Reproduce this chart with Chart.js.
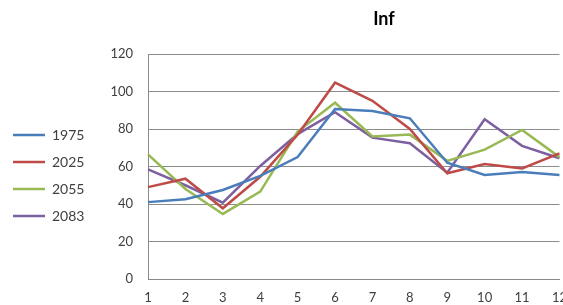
<!DOCTYPE html>
<html>
<head>
<meta charset="utf-8">
<script src="https://cdn.jsdelivr.net/npm/chart.js@4.4.1/dist/chart.umd.min.js"></script>
<style>
  html,body{margin:0;padding:0;background:#fff;overflow:hidden;}
  #wrap{position:relative;width:563px;height:305px;overflow:hidden;}
  #box{position:absolute;left:0;top:0;width:578px;height:305px;}
  #title{position:absolute;left:334px;top:7px;width:100px;text-align:center;font:bold 18px Lato,"Open Sans",sans-serif;color:#000;}
</style>
</head>
<body>
<div id="wrap">
  <div id="box"><canvas id="c"></canvas></div>
  <div id="title">Inf</div>
</div>
<script>
// data
const months = ['1','2','3','4','5','6','7','8','9','10','11','12'];
const s1975 = [41, 42.5, 47.5, 55, 65, 90.7, 89.6, 85.7, 62, 55.5, 57, 55.5];
const s2025 = [49, 53.5, 37.7, 54.5, 77, 104.7, 95, 80, 56.4, 61.3, 59, 67];
const s2055 = [66.5, 48, 34.7, 46.6, 78.6, 94, 76, 77, 63, 69, 79.5, 65];
const s2083 = [58.5, 50, 40.7, 60.3, 77.3, 89, 75.4, 72.4, 56.7, 85.2, 71, 64.4];
const yTicks = [0, 20, 40, 60, 80, 100, 120];

const txt = '#404040';
function ds(label, data, color){
  return { label, data, borderColor: color, backgroundColor: color, borderWidth: 2.5, pointRadius: 0, tension: 0, fill: false };
}

// nudge the left legend up a little, like the excel original
const legendNudge = {
  id: 'legendNudge',
  afterLayout(chart){ const lg = chart.legend; lg.top -= 4; lg.bottom -= 4; }
};

const chart = new Chart(document.getElementById('c'), {
  type: 'line',
  data: {
    labels: months,
    datasets: [
      ds('1975', s1975, '#4A7EBB'),
      ds('2025', s2025, '#BE4B48'),
      ds('2055', s2055, '#98B954'),
      ds('2083', s2083, '#7D60A0')
    ]
  },
  plugins: [legendNudge],
  options: {
    responsive: true, maintainAspectRatio: false, animation: false,
    layout: { padding: { top: 54, left: 0, right: 0, bottom: 0 } },
    plugins: {
      tooltip: { enabled: false },
      legend: {
        position: 'left',
        labels: { usePointStyle: true, pointStyle: 'line', pointStyleWidth: 32, padding: 13, color: txt, font: { family: 'Lato', size: 14 } }
      }
    },
    scales: {
      x: {
        offset: false,
        afterFit: s => { s.height = 26; },
        grid: { display: false, drawTicks: false },
        border: { color: '#888', width: 1 },
        ticks: { color: txt, padding: 11, font: { family: 'Lato', size: 13 }, maxRotation: 0 }
      },
      y: {
        min: 0, max: 120,
        afterBuildTicks: s => { s.ticks = yTicks.map(v => ({ value: v })); },
        afterFit: s => { s.width = 148 - s.chart.legend.width; },
        grid: { color: '#8c8c8c', lineWidth: 1, drawTicks: false },
        border: { color: '#888', width: 1 },
        ticks: { color: txt, padding: 15, font: { family: 'Lato', size: 13 } }
      }
    }
  }
});
</script>
</body>
</html>
